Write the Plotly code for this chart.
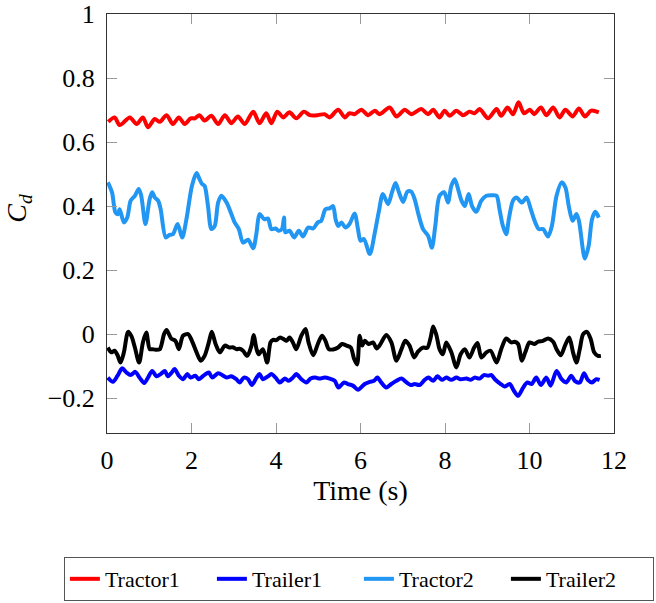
import plotly.graph_objects as go

# ---------------- data ----------------
tractor2_t = [0.02,0.12,0.20,0.26,0.30,0.40,0.48,0.56,0.66,0.75,0.81,0.91,1.01,1.07,1.13,1.21,1.27,1.39,1.48,1.56,
              1.67,1.78,1.88,2.01,2.12,2.19,2.25,2.31,2.39,2.47,2.55,2.63,2.71,2.83,2.93,3.02,3.12,3.22,3.34,3.46,
              3.54,3.61,3.72,3.81,3.89,3.99,4.06,4.14,4.19,4.22,4.32,4.43,4.54,4.64,4.76,4.88,4.99,5.07,5.17,5.27,
              5.35,5.41,5.47,5.55,5.64,5.74,5.86,5.94,6.00,6.08,6.22,6.34,6.43,6.53,6.65,6.75,6.83,6.91,7.01,7.11,
              7.20,7.28,7.38,7.48,7.60,7.69,7.77,7.87,7.98,8.07,8.15,8.23,8.31,8.39,8.47,8.56,8.64,8.74,8.86,8.98,
              9.10,9.22,9.29,9.37,9.45,9.51,9.61,9.69,9.82,9.93,10.03,10.12,10.22,10.32,10.44,10.53,10.64,10.76,10.85,10.93,
              11.02,11.11,11.17,11.31,11.40,11.48,11.56,11.64]
tractor2_v = [0.474,0.442,0.380,0.375,0.390,0.349,0.364,0.417,0.432,0.453,0.432,0.344,0.422,0.443,0.427,0.417,0.390,0.302,0.310,0.312,
              0.344,0.302,0.359,0.463,0.503,0.484,0.469,0.463,0.400,0.328,0.338,0.411,0.432,0.411,0.380,0.349,0.328,0.286,0.295,0.268,
              0.318,0.375,0.359,0.361,0.328,0.330,0.323,0.328,0.364,0.318,0.323,0.302,0.323,0.305,0.333,0.330,0.349,0.354,0.390,0.393,
              0.400,0.359,0.338,0.349,0.333,0.344,0.377,0.328,0.292,0.297,0.250,0.318,0.380,0.438,0.406,0.445,0.472,0.443,0.413,0.445,
              0.445,0.422,0.370,0.328,0.307,0.270,0.338,0.432,0.443,0.411,0.463,0.484,0.453,0.417,0.400,0.438,0.400,0.382,0.417,0.432,
              0.434,0.432,0.390,0.338,0.312,0.359,0.417,0.427,0.411,0.427,0.390,0.354,0.328,0.328,0.305,0.338,0.432,0.474,0.458,0.400,
              0.354,0.375,0.354,0.236,0.276,0.359,0.382,0.364]

tractor1_t = [0.03,0.18,0.30,0.54,0.70,0.85,0.97,1.13,1.25,1.41,1.56,1.70,1.84,1.98,2.08,2.19,2.31,2.47,2.63,2.79,
              2.94,3.10,3.26,3.46,3.61,3.77,3.89,4.03,4.17,4.32,4.48,4.66,4.80,4.99,5.15,5.27,5.47,5.63,5.74,5.86,
              6.02,6.18,6.34,6.45,6.69,6.85,7.05,7.20,7.44,7.60,7.72,7.87,7.99,8.11,8.27,8.43,8.58,8.70,8.82,9.02,
              9.22,9.33,9.48,9.61,9.74,9.87,10.01,10.11,10.27,10.40,10.56,10.71,10.85,11.02,11.17,11.31,11.46,11.64]
tractor1_v = [0.663,0.677,0.653,0.677,0.656,0.677,0.646,0.672,0.663,0.684,0.656,0.677,0.656,0.674,0.674,0.684,0.667,0.682,0.656,0.684,
              0.659,0.680,0.656,0.695,0.659,0.690,0.659,0.695,0.677,0.693,0.674,0.695,0.684,0.684,0.687,0.677,0.701,0.677,0.690,0.687,
              0.701,0.684,0.698,0.687,0.708,0.680,0.701,0.687,0.703,0.687,0.701,0.677,0.698,0.682,0.698,0.684,0.695,0.690,0.703,0.674,
              0.703,0.682,0.708,0.687,0.724,0.690,0.701,0.687,0.708,0.684,0.708,0.677,0.701,0.680,0.705,0.680,0.698,0.693]

trailer2_t = [0.02,0.10,0.18,0.25,0.32,0.40,0.50,0.58,0.66,0.76,0.85,0.93,1.01,1.07,1.15,1.25,1.35,1.41,1.52,1.62,
              1.70,1.80,1.92,2.01,2.12,2.22,2.31,2.41,2.48,2.57,2.67,2.79,2.90,2.98,3.06,3.14,3.22,3.32,3.42,3.47,
              3.54,3.59,3.69,3.79,3.87,3.93,4.01,4.09,4.17,4.25,4.32,4.40,4.48,4.60,4.70,4.77,4.88,4.99,5.09,5.17,
              5.25,5.35,5.47,5.56,5.67,5.77,5.85,5.92,5.98,6.04,6.10,6.19,6.30,6.38,6.45,6.61,6.73,6.85,6.97,7.06,
              7.16,7.27,7.36,7.48,7.58,7.66,7.72,7.80,7.87,7.95,8.03,8.15,8.27,8.37,8.47,8.58,8.69,8.77,8.86,8.98,
              9.08,9.22,9.33,9.45,9.57,9.65,9.73,9.82,9.90,10.00,10.12,10.20,10.32,10.44,10.56,10.64,10.74,10.84,10.94,11.03,
              11.11,11.19,11.27,11.36,11.45,11.53,11.62,11.69]
trailer2_v = [-0.042,-0.057,-0.052,-0.066,-0.089,-0.057,0.007,-0.007,-0.042,-0.089,-0.026,0.005,-0.047,-0.047,-0.049,-0.047,0.000,0.013,-0.014,-0.021,
              -0.047,-0.005,0.000,-0.021,-0.057,-0.083,-0.068,-0.026,0.007,-0.031,-0.057,-0.036,-0.042,-0.041,-0.047,-0.046,-0.052,-0.068,-0.036,-0.003,
              -0.047,-0.063,-0.047,-0.089,-0.026,-0.018,-0.019,-0.011,-0.015,-0.021,-0.011,-0.026,-0.047,-0.005,0.016,-0.026,-0.066,-0.031,-0.005,-0.021,
              -0.047,-0.048,-0.042,-0.031,-0.036,-0.042,-0.078,-0.095,-0.005,-0.036,-0.021,-0.031,-0.026,-0.045,-0.036,-0.003,-0.026,-0.083,-0.047,-0.021,
              -0.036,-0.073,-0.055,-0.042,-0.043,-0.011,0.024,-0.005,-0.047,-0.063,-0.026,-0.057,-0.104,-0.063,-0.047,-0.073,-0.042,-0.028,-0.073,-0.057,
              -0.052,-0.089,-0.047,-0.014,-0.026,-0.024,-0.031,-0.083,-0.057,-0.026,-0.031,-0.024,-0.021,-0.014,-0.024,-0.047,-0.066,-0.036,-0.011,-0.057,
              -0.089,-0.047,0.000,0.007,-0.016,-0.057,-0.068,-0.068]

trailer1_t = [0.02,0.14,0.25,0.36,0.46,0.56,0.67,0.77,0.88,0.97,1.07,1.17,1.27,1.37,1.44,1.52,1.60,1.70,1.80,1.90,
              1.98,2.09,2.17,2.30,2.41,2.49,2.63,2.75,2.83,2.94,3.06,3.14,3.24,3.34,3.43,3.54,3.61,3.69,3.81,3.89,
              3.99,4.09,4.21,4.30,4.40,4.48,4.60,4.72,4.82,4.93,5.03,5.15,5.27,5.39,5.48,5.61,5.70,5.82,5.94,6.10,
              6.22,6.32,6.40,6.49,6.61,6.73,6.85,6.97,7.09,7.19,7.28,7.40,7.52,7.61,7.72,7.82,7.93,8.03,8.15,8.27,
              8.37,8.51,8.61,8.70,8.82,8.92,9.02,9.10,9.18,9.32,9.41,9.53,9.63,9.73,9.85,9.95,10.05,10.16,10.27,10.40,
              10.50,10.64,10.76,10.87,10.99,11.07,11.19,11.29,11.38,11.48,11.58,11.66]
trailer1_v = [-0.136,-0.149,-0.130,-0.107,-0.120,-0.128,-0.118,-0.136,-0.153,-0.136,-0.115,-0.132,-0.125,-0.115,-0.132,-0.122,-0.109,-0.130,-0.141,-0.125,
              -0.136,-0.130,-0.141,-0.128,-0.120,-0.136,-0.122,-0.130,-0.136,-0.132,-0.141,-0.151,-0.136,-0.141,-0.159,-0.136,-0.125,-0.141,-0.132,-0.125,
              -0.136,-0.151,-0.139,-0.146,-0.136,-0.125,-0.141,-0.151,-0.139,-0.136,-0.139,-0.136,-0.139,-0.146,-0.167,-0.151,-0.156,-0.161,-0.174,-0.156,
              -0.149,-0.146,-0.136,-0.151,-0.167,-0.156,-0.146,-0.139,-0.151,-0.159,-0.156,-0.159,-0.143,-0.136,-0.146,-0.132,-0.143,-0.136,-0.143,-0.136,
              -0.141,-0.139,-0.143,-0.136,-0.139,-0.128,-0.130,-0.128,-0.141,-0.156,-0.164,-0.156,-0.177,-0.193,-0.167,-0.151,-0.156,-0.136,-0.159,-0.136,
              -0.161,-0.115,-0.141,-0.151,-0.130,-0.146,-0.151,-0.122,-0.143,-0.151,-0.141,-0.143]

x_ticks = [0, 2, 4, 6, 8, 10, 12]
y_ticks = [-0.2, 0, 0.2, 0.4, 0.6, 0.8, 1]
y_tick_labels = ["\u22120.2", "0", "0.2", "0.4", "0.6", "0.8", "1"]

series = [
    ("Tractor1", tractor1_t, tractor1_v, "#ff0000"),
    ("Trailer1", trailer1_t, trailer1_v, "#0000ff"),
    ("Tractor2", tractor2_t, tractor2_v, "#2196f3"),
    ("Trailer2", trailer2_t, trailer2_v, "#000000"),
]

FONT = "Liberation Serif"

fig = go.Figure()
for name, t, v, col in series:
    fig.add_trace(go.Scatter(x=t, y=v, name=name, mode="lines",
                             line=dict(color=col, width=4, shape="spline", smoothing=0.8)))

axis_common = dict(showline=True, linecolor="#333333", linewidth=1, mirror="allticks",
                   ticks="inside", ticklen=10, tickcolor="#9a9a9a", tickwidth=1,
                   showgrid=False, zeroline=False, automargin=False, ticklabeloverflow="allow",
                   tickfont=dict(family=FONT, size=26, color="black"))

fig.update_layout(
    width=656, height=603,
    margin=dict(l=107, r=42, t=14, b=170, autoexpand=False),
    paper_bgcolor="white", plot_bgcolor="white",
    font=dict(family=FONT, color="black"),
    xaxis=dict(range=[0, 12], tickvals=x_ticks, ticktext=[str(v) for v in x_ticks],
               title=dict(text="Time (s)", font=dict(family=FONT, size=28), standoff=6),
               ticklabelstandoff=4, **axis_common),
    yaxis=dict(range=[-0.309, 1], tickvals=y_ticks, ticktext=y_tick_labels,
               ticklabelstandoff=6, **axis_common),
    legend=dict(orientation="h", x=-0.085, xanchor="left", y=-0.296, yanchor="top",
                bordercolor="#555555", borderwidth=1, bgcolor="white",
                font=dict(family=FONT, size=22, color="black"),
                itemwidth=30, entrywidth=102, entrywidthmode="pixels", tracegroupgap=0),
    showlegend=True,
    annotations=[dict(text="<i>C</i><sub><i>d</i></sub>", xref="paper", yref="paper",
                      x=-0.174, y=0.537, xanchor="center", yanchor="middle", textangle=-90,
                      showarrow=False, font=dict(family=FONT, size=28, color="black"))],
)

# remove the page's default 8px body margin so the figure fills the window
fig.write_html("out.html", config={"displayModeBar": False},
               post_script="document.body.style.margin='0';")
